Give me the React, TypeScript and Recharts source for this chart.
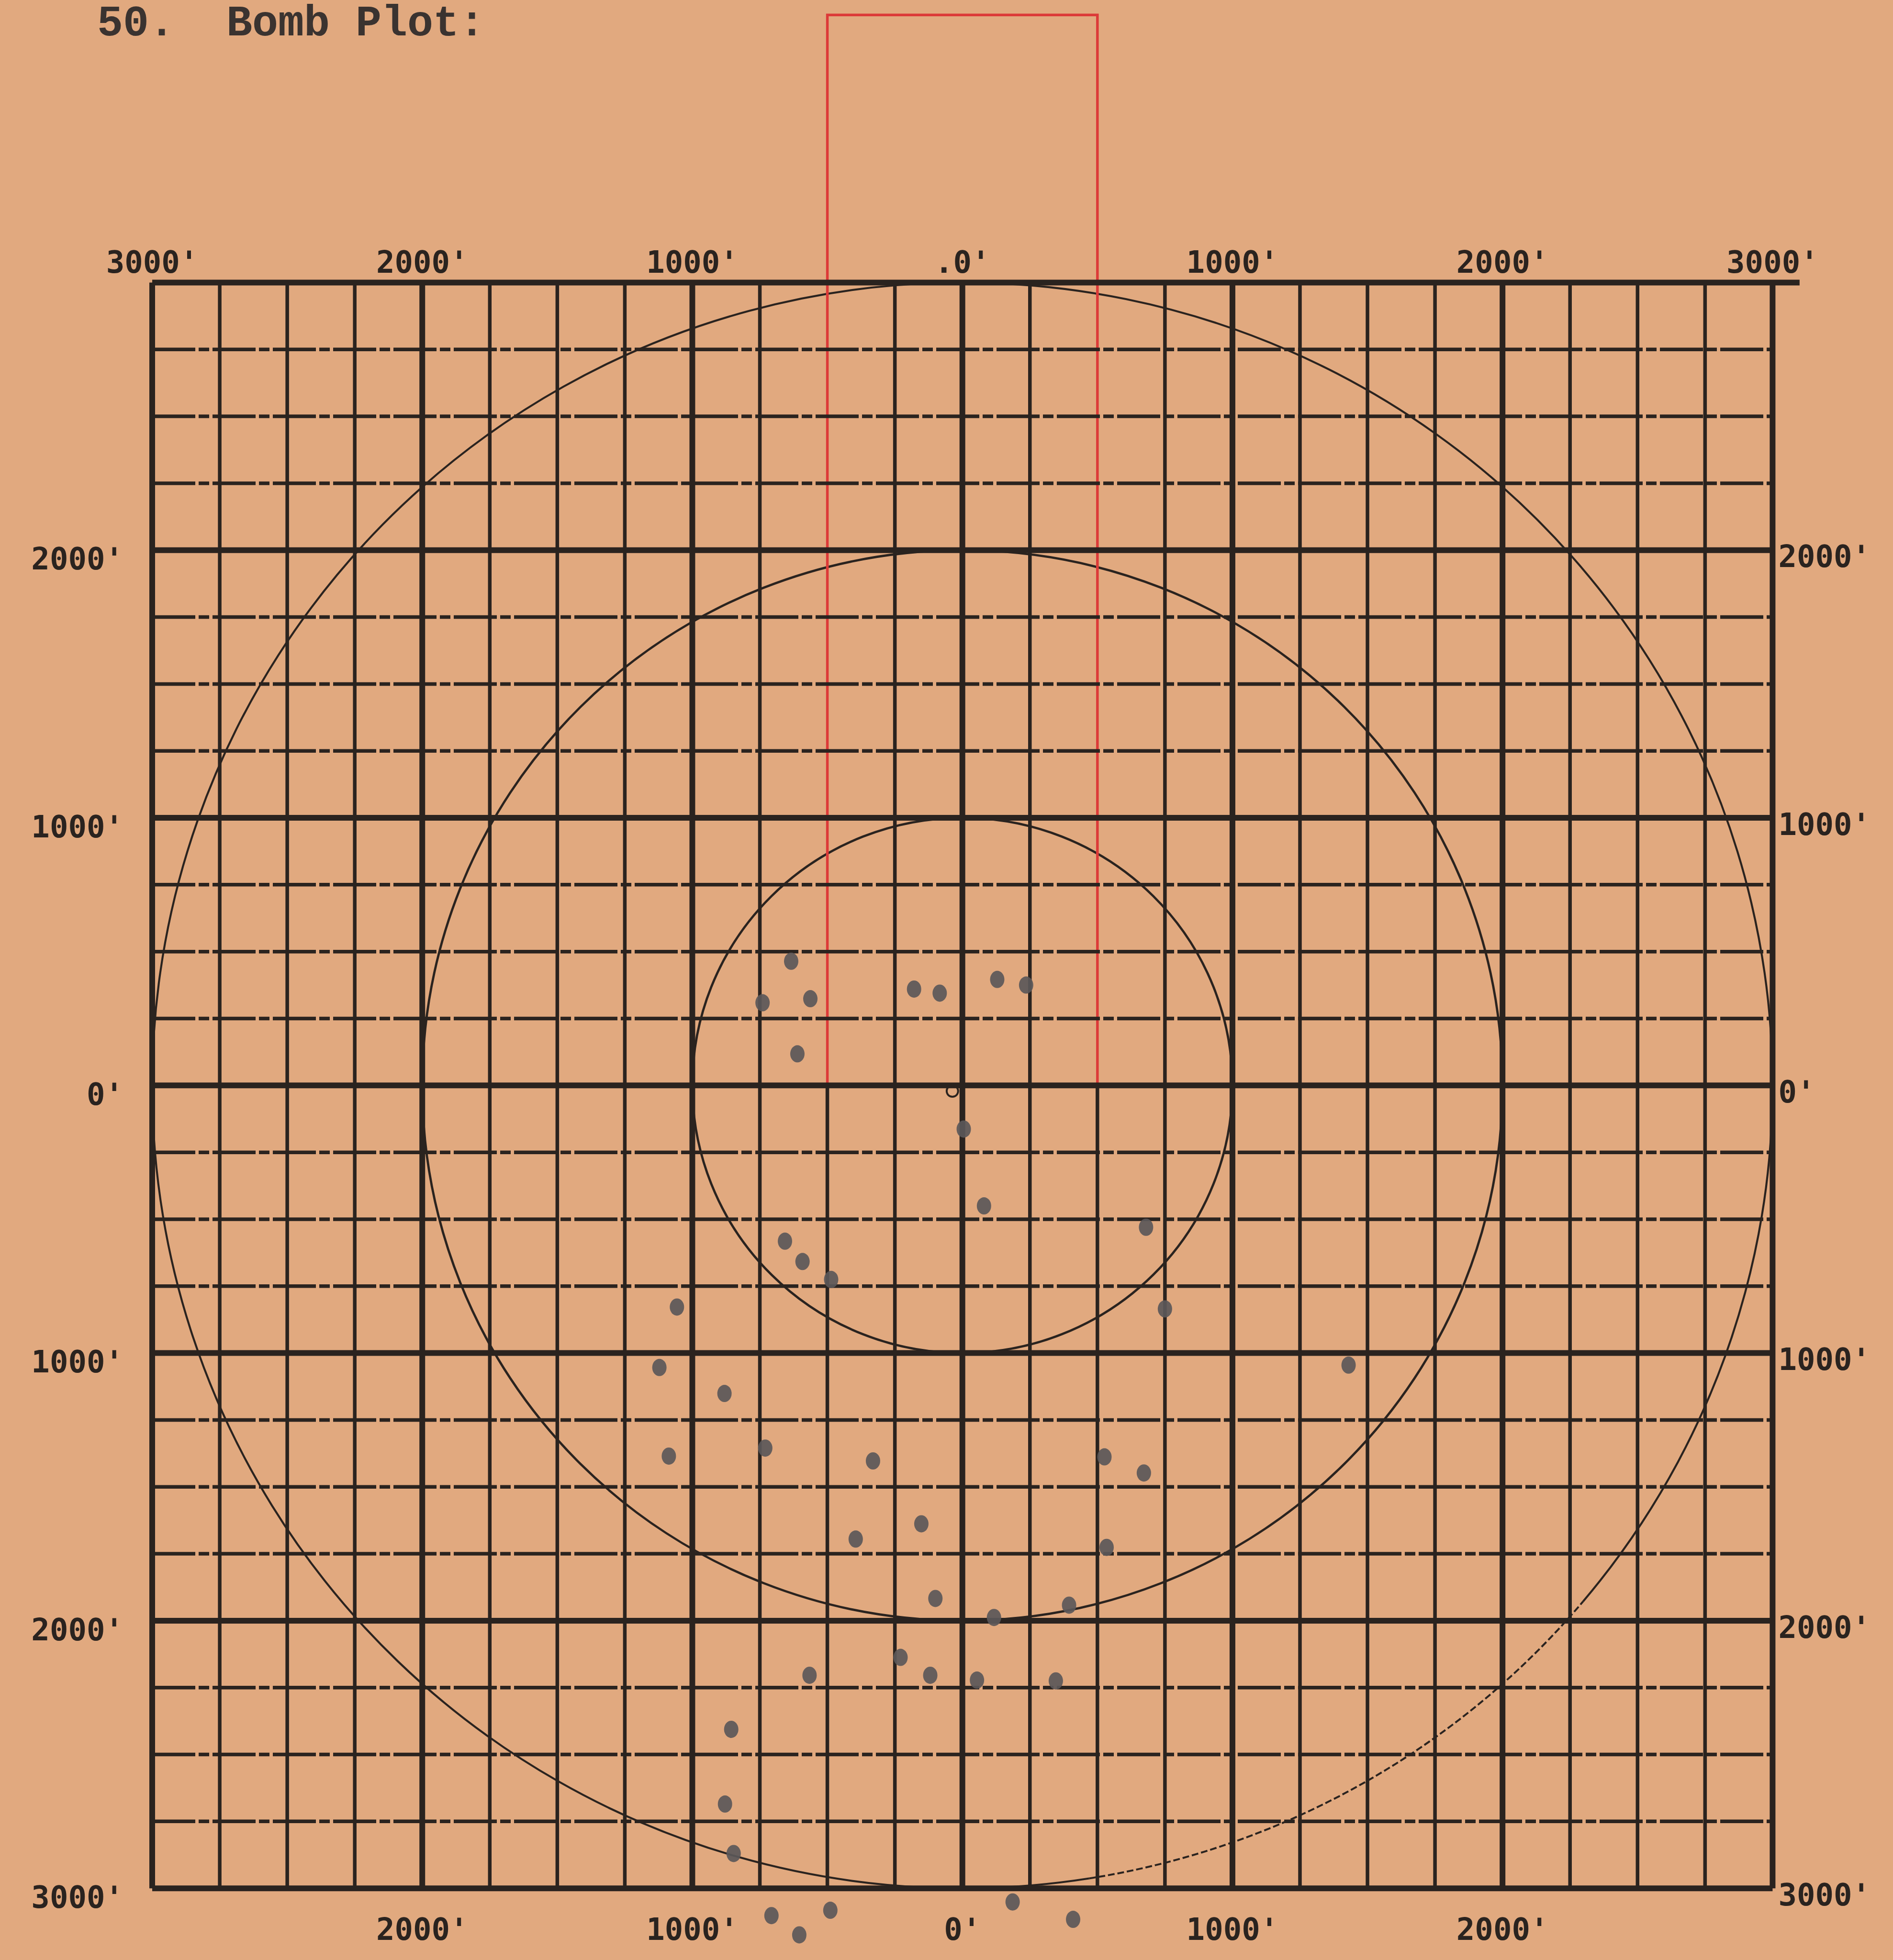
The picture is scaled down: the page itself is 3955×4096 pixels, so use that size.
import React from 'react';
import {
  ScatterChart,
  Scatter,
  XAxis,
  YAxis,
  ReferenceLine,
  ReferenceArea,
  ReferenceDot,
  Label,
} from 'recharts';

// ---------- data ----------
const majorX = [-3000, -2000, -1000, 0, 1000, 2000, 3000];
const majorY = [3000, 2000, 1000, 0, -1000, -2000, -3000];
const minorVals = [
  -2750, -2500, -2250, -1750, -1500, -1250, -750, -500, -250,
  250, 500, 750, 1250, 1500, 1750, 2250, 2500, 2750,
];
const topTickLabels = ["3000'", "2000'", "1000'", ".0'", "1000'", "2000'", "3000'"];
const bottomTickLabels = ['', "2000'", "1000'", "0'", "1000'", "2000'", ''];
const leftTickLabels = ['', "2000'", "1000'", "0'", "1000'", "2000'", "3000'"];
const rightTickLabels = ['', "2000'", "1000'", "0'", "1000'", "2000'", "3000'"];
const ringRadii = [1000, 2000, 3000];
const targetBox = { x1: -500, x2: 500, y1: 0, y2: 4000 };
const gridLimit = 3000;
const topBorderEnd = 3100;
const dashedArc = { ring: 3000, from: -81, to: -40 };
const aimPoint = { x: -37, y: -21 };

const impactsX = [
  -634, -563, -740, -611, -179, -84, 129, 236,
  5, 80, 680, -657, -592, -486, -1057, 750,
  -1122, 1430, -881, -1087, -730, -331, 526, 672,
  -152, -395, 534, -100, 117, 395, -229, -119,
  -566, 54, 346, -856, -879, -847, -707, -604,
  -489, 186, 410,
];
const impactsY = [
  464, 324, 309, 118, 360, 345, 396, 375,
  -163, -450, -530, -582, -658, -725, -828, -835,
  -1054, -1045, -1151, -1385, -1355, -1403, -1388, -1448,
  -1638, -1695, -1726, -1917, -1988, -1942, -2137, -2204,
  -2204, -2222, -2225, -2406, -2685, -2870, -3102, -3174,
  -3082, -3051, -3116,
];
const impacts = impactsX.map((x, i) => ({ x, y: impactsY[i] }));

// ---------- style ----------
const W = 3955;
const H = 4096;
const PAPER = '#E1A97F';
const INK = '#2a231f';
const RED = '#DC3A38';
const DOT = '#5b5859';
const LABEL_FONT = '"DejaVu Sans Mono", monospace';
const LABEL_SIZE = 64;
const MAJOR_W = 12;
const MINOR_W = 7.5;
const RING_W = 4.8;

const labelStyle = {
  fontFamily: LABEL_FONT,
  fontSize: LABEL_SIZE,
  fontWeight: 'bold' as const,
  fill: INK,
};

const ringShape = (r: number) => (p: any) => {
  const cx = p.x + p.width / 2;
  const cy = p.y + p.height / 2;
  const rx = p.width / 2;
  const ry = p.height / 2;
  if (r !== dashedArc.ring) {
    return <ellipse cx={cx} cy={cy} rx={rx} ry={ry} fill="none" stroke={INK} strokeWidth={RING_W} />;
  }
  const pt = (deg: number) => [
    cx + rx * Math.cos((deg * Math.PI) / 180),
    cy - ry * Math.sin((deg * Math.PI) / 180),
  ];
  const [ax, ay] = pt(dashedArc.from);
  const [bx, by] = pt(dashedArc.to);
  return (
    <g>
      <path
        d={`M ${bx} ${by} A ${rx} ${ry} 0 1 0 ${ax} ${ay}`}
        fill="none"
        stroke={INK}
        strokeWidth={RING_W - 0.6}
      />
      <path
        d={`M ${ax} ${ay} A ${rx} ${ry} 0 0 0 ${bx} ${by}`}
        fill="none"
        stroke={INK}
        strokeWidth={4}
        strokeDasharray="14 6"
      />
    </g>
  );
};

const ImpactShape = (p: any) => (
  <ellipse cx={p.cx} cy={p.cy} rx={15} ry={18} fill={DOT} fillOpacity={0.92} />
);

export default function App() {
  const plotLeft = 318;
  const plotRight = 3703.4;
  const plotTop = 31.2;
  const plotBottom = 4086;

  return (
    <div
      style={{
        position: 'absolute',
        left: 0,
        top: 0,
        width: W,
        height: H,
        background: PAPER,
        overflow: 'hidden',
      }}
    >
      <svg width={W} height={140} style={{ position: 'absolute', left: 0, top: 0 }}>
        <text
          x={203}
          y={74}
          fontFamily='"Liberation Mono", monospace'
          fontWeight="bold"
          fontSize={90}
          fill="#3a3330"
          style={{ whiteSpace: 'pre' }}
        >
          {'50.  Bomb Plot:'}
        </text>
      </svg>
      <div style={{ position: 'absolute', left: 0, top: 0 }}>
        <ScatterChart
          width={W}
          height={H}
          margin={{ top: plotTop, right: W - plotRight, bottom: H - plotBottom, left: plotLeft }}
        >
          <XAxis type="number" dataKey="x" domain={[-3000, 3000]} hide />
          <YAxis type="number" dataKey="y" domain={[-3250, 4000]} hide />

          {/* minor horizontal lines */}
          {minorVals.map((v) => (
            <ReferenceLine
              key={`mh${v}`}
              segment={[{ x: -gridLimit, y: v }, { x: gridLimit, y: v }]}
              stroke={INK}
              strokeWidth={MINOR_W}
              strokeDasharray="90 7 22 7"
              ifOverflow="visible"
            />
          ))}

          {/* minor vertical lines */}
          {minorVals.map((v) => (
            <ReferenceLine
              key={`mv${v}`}
              segment={[
                { x: v, y: -gridLimit },
                { x: v, y: v === targetBox.x1 || v === targetBox.x2 ? targetBox.y1 : gridLimit },
              ]}
              stroke={INK}
              strokeWidth={MINOR_W}
              ifOverflow="visible"
            />
          ))}

          {/* major horizontal lines with side labels */}
          {majorY.map((v, i) => (
            <ReferenceLine
              key={`MH${v}`}
              segment={[
                { x: -gridLimit, y: v },
                { x: v === gridLimit ? topBorderEnd : gridLimit, y: v },
              ]}
              stroke={INK}
              strokeWidth={MAJOR_W}
              ifOverflow="visible"
            >
              {leftTickLabels[i] ? (
                <Label value={leftTickLabels[i]} position="left" offset={60} dy={18} {...labelStyle} />
              ) : null}
              {rightTickLabels[i] ? (
                <Label value={rightTickLabels[i]} position="right" offset={12} dy={13} {...labelStyle} />
              ) : null}
            </ReferenceLine>
          ))}

          {/* major vertical lines with top / bottom labels */}
          {majorX.map((v, i) => (
            <ReferenceLine
              key={`MV${v}`}
              segment={[{ x: v, y: -gridLimit }, { x: v, y: gridLimit }]}
              stroke={INK}
              strokeWidth={MAJOR_W}
              ifOverflow="visible"
            >
              <Label value={topTickLabels[i]} position="top" offset={20} {...labelStyle} />
              {bottomTickLabels[i] ? (
                <Label value={bottomTickLabels[i]} position="bottom" offset={62} {...labelStyle} />
              ) : null}
            </ReferenceLine>
          ))}

          {/* range rings */}
          {ringRadii.map((r) => (
            <ReferenceArea
              key={`ring${r}`}
              x1={-r}
              x2={r}
              y1={-r}
              y2={r}
              ifOverflow="visible"
              shape={ringShape(r)}
            />
          ))}

          {/* red target box */}
          <ReferenceArea
            x1={targetBox.x1}
            x2={targetBox.x2}
            y1={targetBox.y1}
            y2={targetBox.y2}
            ifOverflow="visible"
            fill="none"
            fillOpacity={0}
            stroke={RED}
            strokeWidth={5.5}
          />

          <ReferenceDot
            x={aimPoint.x}
            y={aimPoint.y}
            r={12}
            fill="none"
            stroke={INK}
            strokeWidth={4}
            ifOverflow="visible"
          />

          <Scatter data={impacts} shape={ImpactShape} isAnimationActive={false} />
        </ScatterChart>
      </div>
    </div>
  );
}
